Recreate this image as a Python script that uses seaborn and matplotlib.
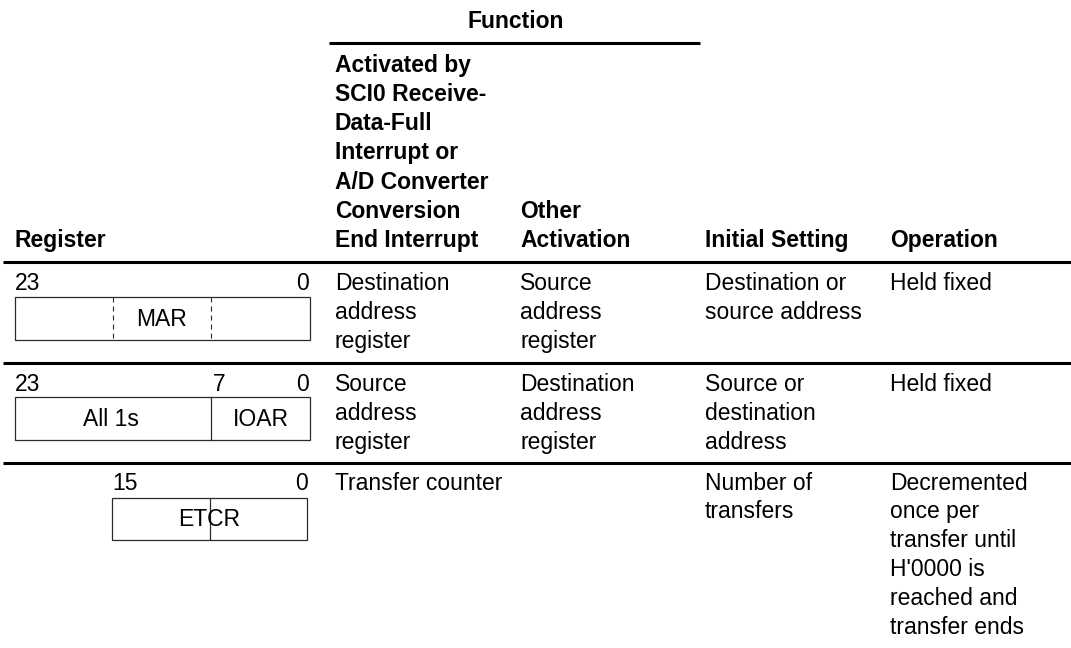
import matplotlib
matplotlib.use("Agg")
import matplotlib.pyplot as plt
import seaborn as sns
from matplotlib.patches import Rectangle

sns.set_theme(style="white")
plt.rcParams["font.family"] = ["Liberation Sans", "DejaVu Sans"]
plt.rcParams["lines.scale_dashes"] = False
plt.rcParams["text.color"] = "black"

# ---------------- data ----------------
group_header = "Function"
col_headers = [
    ["Register"],
    ["Activated by", "SCI0 Receive-", "Data-Full", "Interrupt or",
     "A/D Converter", "Conversion", "End Interrupt"],
    ["Other", "Activation"],
    ["Initial Setting"],
    ["Operation"],
]
bit_labels = [["23", "0"], ["23", "7", "0"], ["15", "0"]]
register_fields = [["MAR"], ["All 1s", "IOAR"], ["ETCR"]]
activated_fn = [["Destination", "address", "register"],
                ["Source", "address", "register"],
                ["Transfer counter"]]
other_fn = [["Source", "address", "register"],
            ["Destination", "address", "register"],
            []]
initial_setting = [["Destination or", "source address"],
                   ["Source or", "destination", "address"],
                   ["Number of", "transfers"]]
operation = [["Held fixed"],
             ["Held fixed"],
             ["Decremented", "once per", "transfer until", "H'0000 is",
              "reached and", "transfer ends"]]

# ---------------- layout ----------------
W, H = 1071, 648
FS = 16.5
fig = plt.figure(figsize=(W / 100, H / 100), dpi=100)
ax = fig.add_axes([0, 0, 1, 1])
ax.set_xlim(0, W)
ax.set_ylim(H, 0)
ax.axis("off")

col_x = [15, 335, 520, 705, 890]
head_last_base = 247
head_lh = 29.2
body_lh = 28.8
rules = [262, 362.5, 462.5]
first_base = [290, 391, 489.5]

# group header
ax.text(516, 28, group_header, fontsize=FS, fontweight="bold",
        ha="center", va="baseline", color="black")
ax.plot([329, 700], [43, 43], color="black", lw=2.2, solid_capstyle="butt")

# column headers (bottom aligned)
for cx, lines in zip(col_x, col_headers):
    n = len(lines)
    for i, ln in enumerate(lines):
        y = head_last_base - (n - 1 - i) * head_lh
        ax.text(cx, y, ln, fontsize=FS, fontweight="bold", ha="left",
                va="baseline", color="black")

# horizontal rules
for ry in rules:
    ax.plot([3, W], [ry, ry], color="black", lw=2.2, solid_capstyle="butt")

# body text
body_cols = [activated_fn, other_fn, initial_setting, operation]
for r in range(3):
    for cx, col in zip(col_x[1:], body_cols):
        for i, ln in enumerate(col[r]):
            ax.text(cx, first_base[r] + i * body_lh, ln, fontsize=FS,
                    ha="left", va="baseline", color="black")

# register diagrams
box_geom = [  # (x0, x1, y0, y1)
    (15, 310, 297, 340),
    (15, 310, 397, 439.5),
    (112, 307, 498, 540),
]
bit_pos = [  # (x, ha) for each bit label
    [(15, "left"), (309, "right")],
    [(15, "left"), (213, "left"), (309, "right")],
    [(112, "left"), (308, "right")],
]
field_x = [[162], [111, 260.5], [209.5]]
dividers = [[(113, "dashed"), (211, "dashed")], [(211, "solid")], [(209.5, "solid")]]
box_col = "#2a2a2a"
for r in range(3):
    x0, x1, y0, y1 = box_geom[r]
    ax.add_patch(Rectangle((x0, y0), x1 - x0, y1 - y0, fill=False,
                           edgecolor=box_col, lw=0.9))
    for xd, st in dividers[r]:
        if st == "dashed":
            ax.plot([xd, xd], [y0, y1], color=box_col, lw=0.8,
                    linestyle=(0, (3.6, 2.9)))
        else:
            ax.plot([xd, xd], [y0, y1], color=box_col, lw=0.9)
    for lbl, (bx, ha) in zip(bit_labels[r], bit_pos[r]):
        ax.text(bx, first_base[r], lbl, fontsize=FS, ha=ha, va="baseline",
                color="black")
    yc = (y0 + y1) / 2 + 7.5
    for lbl, fx in zip(register_fields[r], field_x[r]):
        ax.text(fx, yc, lbl, fontsize=FS, ha="center", va="baseline",
                color="black")

fig.savefig("out.png", dpi=100, facecolor="white")
